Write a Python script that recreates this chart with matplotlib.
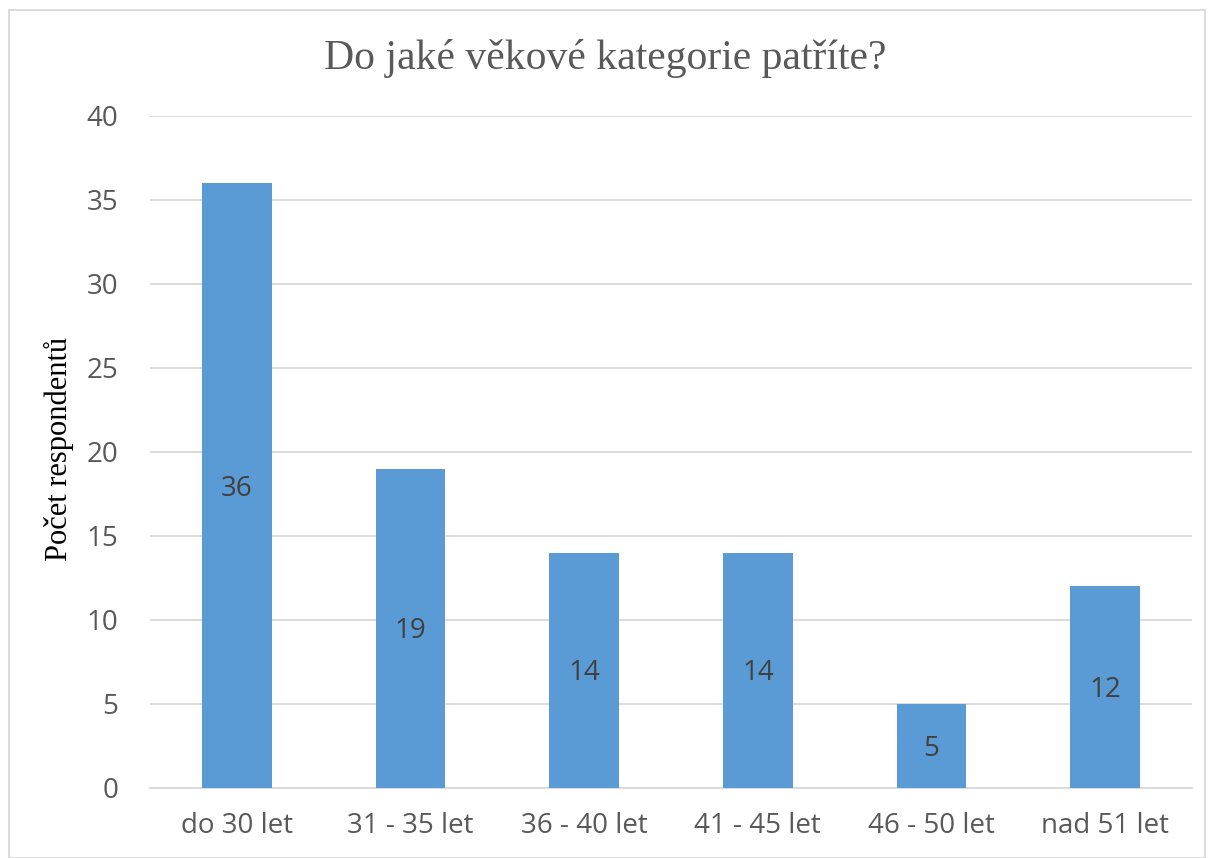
import matplotlib.pyplot as plt
from matplotlib.patches import Rectangle

categories = ['do 30 let', '31 - 35 let', '36 - 40 let', '41 - 45 let', '46 - 50 let', 'nad 51 let']
counts = [36, 19, 14, 14, 5, 12]
yticks = [0, 5, 10, 15, 20, 25, 30, 35, 40]

bar_color = '#5B9BD5'
text_color = '#595959'
grid_color = '#D9D9D9'

fig = plt.figure(figsize=(12.11, 8.58), dpi=100)
ax = fig.add_axes([150 / 1211, 1 - 788 / 858, (1192 - 150) / 1211, (788 - 116) / 858])

x = list(range(len(categories)))
bars = ax.bar(x, counts, width=0.4, color=bar_color, zorder=3)

# value labels sit in the middle of each bar
for xi, v in zip(x, counts):
    ax.annotate(str(v), (xi, v / 2), xytext=(0, -3), textcoords='offset pixels',
                ha='center', va='center', fontsize=20,
                family='Open Sans', color='#404040', zorder=4)

ax.set_xlim(-0.5, len(categories) - 0.5)
ax.set_ylim(0, 40)
ax.set_yticks(yticks)
ax.set_xticks(x)
ax.set_xticklabels(categories)
ax.yaxis.grid(True, color=grid_color, linewidth=1.3, zorder=0)
ax.tick_params(axis='both', length=0, labelsize=20, labelcolor=text_color)
ax.tick_params(axis='x', pad=17)
ax.tick_params(axis='y', pad=23)
for lab in ax.get_xticklabels() + ax.get_yticklabels():
    lab.set_family('Open Sans')
for side in ['top', 'right', 'left']:
    ax.spines[side].set_visible(False)
ax.spines['bottom'].set_color(grid_color)
ax.spines['bottom'].set_linewidth(1.3)

ax.set_ylabel('Počet respondentů', family='Liberation Serif', fontsize=22, color='black')
ax.yaxis.set_label_coords(-0.073, 0.505)
fig.text(0.5, 1 - 58 / 858, 'Do jaké věkové kategorie patříte?', ha='center', va='center',
         family='Liberation Serif', fontsize=30, color=text_color)

# chart frame
fig.patches.append(Rectangle((9 / 1211, 0), 1196 / 1211, 1 - 10 / 858, transform=fig.transFigure,
                             fill=False, edgecolor=grid_color, linewidth=1.3))

fig.savefig('out.png', dpi=100)
